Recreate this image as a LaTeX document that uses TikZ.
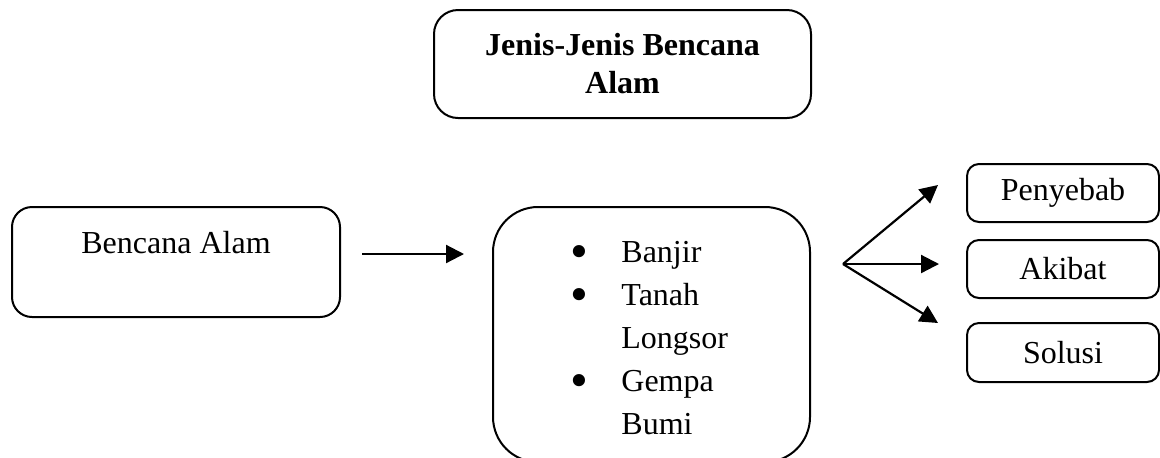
\documentclass[tikz,border=0pt]{standalone}
\usepackage{fontspec}
\setmainfont{Liberation Serif}
\usetikzlibrary{arrows.meta}
\begin{document}
\begin{tikzpicture}[x=0.5pt,y=-0.5pt,
  box/.style={draw, line width=1pt, inner sep=0pt},
  txt/.style={inner sep=0pt, font=\fontsize{16}{19}\selectfont},
  bul/.style={inner sep=0pt, anchor=base, font=\fontsize{25.5}{26}\selectfont},
  arr/.style={line width=1.1pt, -{Triangle[length=9pt,width=9pt]}}]
\useasboundingbox (0,0) rectangle (1160,457);
% title
\node[box, rounded corners=12pt, minimum width=188.5pt, minimum height=54pt, align=center,
      font=\bfseries\fontsize{16}{19}\selectfont] (title) at (622.5,64) {Jenis-Jenis Bencana\\Alam};
% left box
\node[box, rounded corners=10pt, minimum width=164pt, minimum height=55pt] (alam) at (176,262) {};
\node[txt, anchor=base] (alamtxt) at (176,253) {Bencana Alam};
% middle box
\node[box, rounded corners=22.5pt, minimum width=158.5pt, minimum height=127.5pt] (jenis) at (651.5,334.5) {};
\node[bul] (b1) at (579,268) {•};
\node[txt, anchor=base west] (l1) at (621,262) {Banjir};
\node[bul] (b2) at (579,311) {•};
\node[txt, anchor=base west] (l2) at (621,305) {Tanah};
\node[txt, anchor=base west] (l3) at (621,348) {Longsor};
\node[bul] (b3) at (579,397) {•};
\node[txt, anchor=base west] (l4) at (621,391) {Gempa};
\node[txt, anchor=base west] (l5) at (621,434) {Bumi};
% right boxes
\node[box, rounded corners=6pt, minimum width=96pt, minimum height=29pt, txt] (sebab) at (1063,193) {Penyebab};
\node[box, rounded corners=6pt, minimum width=96pt, minimum height=29pt, txt] (akibat) at (1063,269) {Akibat};
\node[box, rounded corners=6pt, minimum width=96pt, minimum height=29.5pt, txt] (solusi) at (1063,352.5) {Solusi};
% arrows
\coordinate (a1) at (362,254);
\coordinate (a2) at (464,254);
\draw[arr] (a1) -- (a2);
\coordinate (fork) at (843,264);
\coordinate (t1) at (938,185);
\coordinate (t2) at (939,264);
\coordinate (t3) at (938,323);
\draw[arr] (fork) -- (t1);
\draw[arr] (fork) -- (t2);
\draw[arr] (fork) -- (t3);
\end{tikzpicture}
\end{document}
